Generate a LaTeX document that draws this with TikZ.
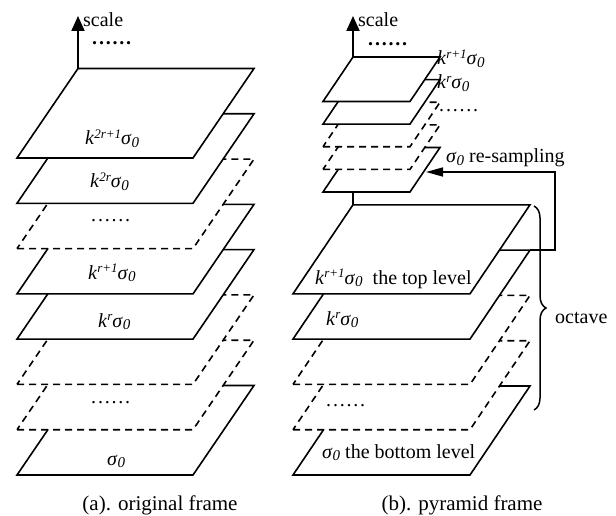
\documentclass[tikz,border=0pt]{standalone}
\usepackage{fontspec}
\setmainfont{Liberation Serif}
\usetikzlibrary{arrows.meta,decorations.pathreplacing}
\newcommand\sgz{\textit{σ}\raisebox{-0.3ex}{\fontsize{15}{15}\selectfont\itshape 0}}
\newcommand\kup[1]{\textit{k}\raisebox{0.75ex}{\fontsize{13}{13}\selectfont\itshape #1}}
\newcommand\sixdots{.\kern1.8pt.\kern1.8pt.\kern1.8pt.\kern1.8pt.\kern1.8pt.}
\newcommand\lay[7]{\draw[#6] (#1,#2) coordinate (#7bl) -- ++(#3,0) coordinate (#7br) -- ++(#4,-#5) coordinate (#7tr) -- ++(-#3,0) coordinate (#7tl) -- cycle;}
\tikzset{
  solidplane/.style={draw=black, line width=1.6pt, fill=white, line join=miter},
  dashplane/.style={solidplane, dash pattern=on 7pt off 5pt},
  axisline/.style={draw=black, line width=2pt},
  txt/.style={inner sep=0pt, anchor=base west},
  bigdots/.style={inner sep=0pt, anchor=base west, font=\fontsize{20}{20}\selectfont\bfseries},
  dots/.style={inner sep=0pt, anchor=base west, font=\fontsize{20}{20}\selectfont},
  captxt/.style={inner sep=0pt, anchor=base, font=\fontsize{21}{24}\selectfont},
}
\begin{document}
\begin{tikzpicture}[x=1pt,y=-1pt,font=\fontsize{20}{24}\selectfont]
\useasboundingbox[fill=white] (0,0) rectangle (616,516);
% left stack (original frame)
\lay{17}{475}{176}{61}{89.5}{solidplane}{La8}
\lay{17}{429.7}{176}{61}{89.5}{dashplane}{La7}
\lay{17}{384.4}{176}{61}{89.5}{dashplane}{La6}
\lay{17}{339.1}{176}{61}{89.5}{solidplane}{La5}
\lay{17}{293.9}{176}{61}{89.5}{solidplane}{La4}
\lay{17}{248.6}{176}{61}{89.5}{dashplane}{La3}
\lay{17}{203.3}{176}{61}{89.5}{solidplane}{La2}
\lay{17}{158}{176}{61}{89.5}{solidplane}{La1}
\coordinate (ltip) at (78,16);
\draw[axisline,-{Triangle[length=15pt,width=13pt]}] (La1tl) -- (ltip);
\node[txt] (lscale) at (83,27) {scale};
\node[bigdots] (ldots) at (92,45) {\sixdots};
\node[txt] (l1) at (85,145) {\kup{2r+1}\sgz};
\node[txt] (l2) at (90,188) {\kup{2r}\sgz};
\node[dots] (l3) at (91,222) {\sixdots};
\node[txt] (l4) at (88,279) {\kup{r+1}\sgz};
\node[txt] (l5) at (98,327) {\kup{r}\sgz};
\node[dots] (l7) at (91,403) {\sixdots};
\node[txt] (l8) at (107,465) {\sgz};
% right big stack
\lay{293}{475}{177}{60}{89}{solidplane}{Rb5}
\lay{293}{429.7}{177}{60}{89}{dashplane}{Rb4}
\lay{293}{384.4}{177}{60}{89}{dashplane}{Rb3}
\lay{293}{339.1}{177}{60}{89}{solidplane}{Rb2}
\lay{293}{293.8}{177}{60}{89}{solidplane}{Rb1}
% right small stack
\lay{323}{192}{87}{30}{44.5}{solidplane}{S5}
\lay{323}{169.4}{87}{30}{44.5}{dashplane}{S4}
\lay{323}{146.75}{87}{30}{44.5}{dashplane}{S3}
\lay{323}{124.1}{87}{30}{44.5}{solidplane}{S2}
\lay{323}{101.5}{87}{30}{44.5}{solidplane}{S1}
\coordinate (rtip) at (353,16);
\draw[axisline,-{Triangle[length=15pt,width=13pt]}] (S1tl) -- (rtip);
\draw[axisline] (Rb1tl |- S5bl) -- (Rb1tl);
\node[txt] (rscale) at (358,27) {scale};
\node[bigdots] (rdots) at (368,46) {\sixdots};
\node[txt] (s1) at (437,65) {\kup{r+1}\sgz};
\node[txt] (s2) at (437,89) {\kup{r}\sgz};
\node[dots] (s3) at (439,112) {\sixdots};
\node[txt] (s5) at (446,163) {\sgz\ re-sampling};
% re-sampling arrow
\coordinate (ac1) at (555,250.1);
\coordinate (ac2) at (555,172);
\coordinate (atip) at (426,172);
\draw[solidplane,fill=none,-{Triangle[length=17pt,width=9pt]}] (Rb2tr) -- (ac1) -- (ac2) -- (atip);
% brace
\coordinate (bt) at (534,206);
\coordinate (bb) at (534,410);
\draw[line width=1.5pt, decorate, decoration={brace, amplitude=12pt}] (bt) -- (bb);
\node[txt] (oct) at (555,323) {octave};
% big labels
\node[txt] (b1) at (315,284) {\kup{r+1}\sgz\hspace{0.5em}the top level};
\node[txt] (b2) at (326,325) {\kup{r}\sgz};
\node[dots] (b4) at (326,406) {\sixdots};
\node[txt] (b5) at (322,458) {\sgz\ the bottom level};
% captions
\node[captxt] (capa) at (160,510) {(a). original frame};
\node[captxt] (capb) at (462,510) {(b). pyramid frame};
\end{tikzpicture}
\end{document}
